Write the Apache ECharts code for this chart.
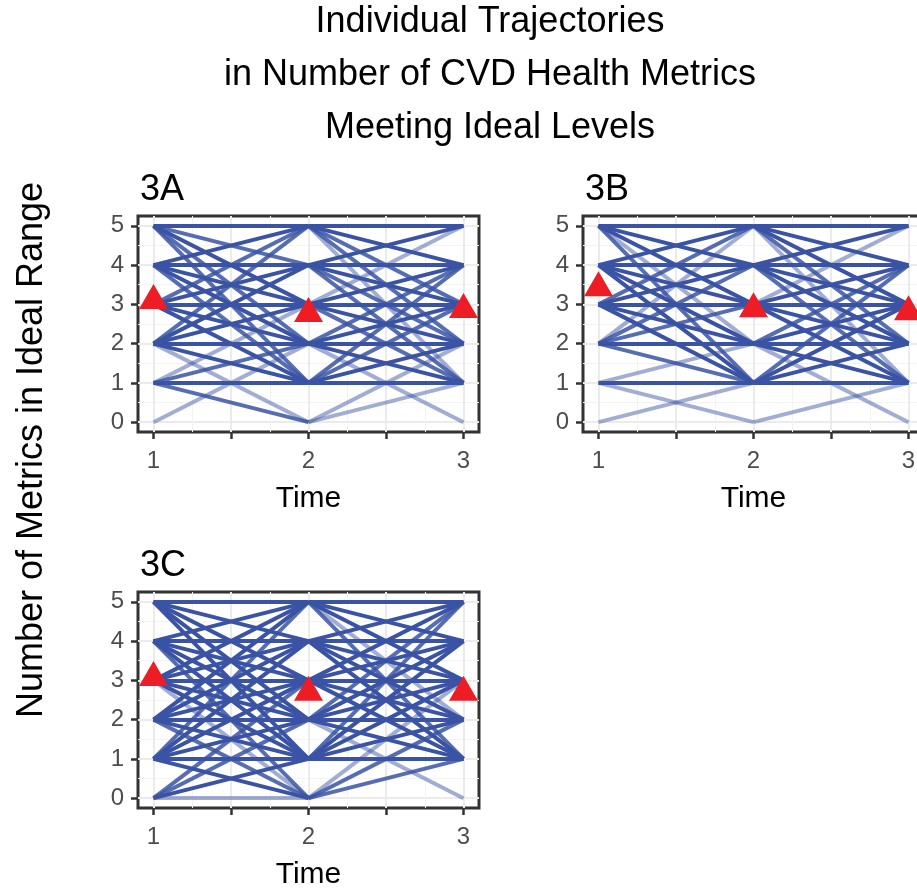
<!DOCTYPE html>
<html>
  <head>
    <meta charset="utf-8">
    <script src="https://cdn.jsdelivr.net/npm/echarts@6.0.0/dist/echarts.min.js"></script>
    <style>
      html, body { margin: 0; padding: 0; background: #fff; }
      #chart { width: 917px; height: 888px; }
    </style>
  </head>
  <body>
    <div id="chart"></div>
    <script>
      // each segment: [metrics at start, metrics at end, how many trajectories overlap]
      const segA12 = [
        [5,5,3],[5,4,2],[5,3,3],[5,2,2],[5,1,2],
        [4,5,3],[4,4,3],[4,3,3],[4,2,3],[4,1,2],
        [3,5,2],[3,4,3],[3,3,3],[3,2,3],[3,1,3],
        [2,5,2],[2,4,3],[2,3,3],[2,2,3],[2,1,3],[2,0,1],
        [1,3,1],[1,2,2],[1,1,3],[1,0,2],
        [0,2,1]
      ];
      const segA23 = [
        [5,5,3],[5,4,3],[5,3,2],[5,2,2],[5,1,1],
        [4,5,3],[4,4,3],[4,3,3],[4,2,2],[4,1,2],
        [3,5,1],[3,4,3],[3,3,3],[3,2,3],[3,1,2],
        [2,4,2],[2,3,3],[2,2,3],[2,1,3],[2,0,1],
        [1,4,2],[1,3,2],[1,2,3],[1,1,3],
        [0,2,1],[0,1,1]
      ];
      const segB12 = [
        [5,5,3],[5,4,3],[5,3,3],[5,2,1],[5,1,2],
        [4,5,3],[4,4,3],[4,3,3],[4,2,3],[4,1,3],
        [3,5,2],[3,4,3],[3,3,3],[3,2,3],[3,1,3],
        [2,5,1],[2,4,2],[2,3,2],[2,2,3],[2,1,2],
        [1,2,1],[1,1,3],[1,0,1],
        [0,1,1]
      ];
      const segB23 = [
        [5,5,3],[5,4,3],[5,3,3],[5,2,2],[5,1,1],
        [4,5,3],[4,4,3],[4,3,3],[4,2,3],[4,1,2],
        [3,5,1],[3,4,3],[3,3,3],[3,2,3],[3,1,3],
        [2,4,2],[2,3,3],[2,2,3],[2,1,3],[2,0,1],
        [1,4,2],[1,3,3],[1,2,3],[1,1,3],
        [0,1,1]
      ];
      const segC12 = [
        [5,5,3],[5,4,3],[5,3,3],[5,2,3],[5,1,3],
        [4,5,3],[4,4,3],[4,3,3],[4,2,3],[4,1,3],[4,0,2],
        [3,5,3],[3,4,3],[3,3,3],[3,2,3],[3,1,3],[3,0,1],
        [2,5,3],[2,4,3],[2,3,3],[2,2,3],[2,1,3],[2,0,2],
        [1,5,2],[1,4,3],[1,3,3],[1,2,3],[1,1,3],[1,0,3],
        [0,3,2],[0,2,2],[0,1,3],[0,0,1]
      ];
      const segC23 = [
        [5,5,3],[5,4,3],[5,3,3],[5,2,1],[5,1,2],
        [4,5,3],[4,4,3],[4,3,3],[4,2,3],[4,1,3],
        [3,5,3],[3,4,3],[3,3,3],[3,2,3],[3,1,3],
        [2,5,2],[2,4,3],[2,3,3],[2,2,3],[2,1,3],[2,0,1],
        [1,5,2],[1,4,3],[1,3,3],[1,2,3],[1,1,3],
        [0,3,1],[0,2,2],[0,1,2]
      ];
      // mean number of metrics at each time point (red triangles)
      const meanA = [3.10, 2.77, 2.87];
      const meanB = [3.42, 2.89, 2.81];
      const meanC = [3.07, 2.70, 2.70];

      const times = [1, 2, 3];
      const panelNames = ['3A', '3B', '3C'];
      const xTicks = [1, 1.5, 2, 2.5, 3];
      const xLabels = [1, 2, 3];
      const xMinor = [1.25, 1.75, 2.25, 2.75];
      const yTicks = [0, 1, 2, 3, 4, 5];
      const yMinor = [0.5, 1.5, 2.5, 3.5, 4.5];

      const FONT = '"Liberation Sans", Arial, Helvetica, sans-serif';
      const lineColor = '#3A53A4';
      const alphaByCount = [0, 0.48, 0.85, 1];

      const panels = [
        { name: panelNames[0], s12: segA12, s23: segA23, mean: meanA, left: 138, top: 216 },
        { name: panelNames[1], s12: segB12, s23: segB23, mean: meanB, left: 583, top: 216 },
        { name: panelNames[2], s12: segC12, s23: segC23, mean: meanC, left: 138, top: 592 }
      ];

      const grid = [], xAxis = [], yAxis = [], series = [], graphic = [];

      panels.forEach((p, i) => {
        grid.push({
          left: p.left, top: p.top, width: 341, height: 216,
          show: true, borderColor: '#333', borderWidth: 3, backgroundColor: '#fff',
          containLabel: false, outerBoundsMode: 'none'
        });
        // main x axis
        xAxis.push({
          type: 'value', gridIndex: i, min: 0.9, max: 3.1,
          name: 'Time', nameLocation: 'middle', nameGap: 52,
          nameTextStyle: { fontSize: 30, color: '#000', fontFamily: FONT },
          axisLine: { show: false, onZero: false },
          axisTick: { show: true, length: 7, customValues: xTicks, lineStyle: { color: '#333', width: 2.5 } },
          axisLabel: { customValues: xLabels, fontSize: 24, color: '#4D4D4D', fontFamily: FONT, margin: 17 },
          splitLine: { show: true, lineStyle: { color: '#EBEBEB', width: 2 } }
        });
        // minor x grid
        xAxis.push({
          type: 'value', gridIndex: i, min: 0.9, max: 3.1,
          axisLine: { show: false, onZero: false },
          axisTick: { show: false, customValues: xMinor },
          axisLabel: { show: false, customValues: xMinor },
          splitLine: { show: true, lineStyle: { color: '#F3F3F3', width: 1 } }
        });
        yAxis.push({
          type: 'value', gridIndex: i, min: -0.25, max: 5.25,
          axisLine: { show: false, onZero: false },
          axisTick: { show: true, length: 7, customValues: yTicks, lineStyle: { color: '#333', width: 2.5 } },
          axisLabel: { customValues: yTicks, fontSize: 24, color: '#4D4D4D', fontFamily: FONT, margin: 14 },
          splitLine: { show: true, lineStyle: { color: '#EBEBEB', width: 2 } }
        });
        yAxis.push({
          type: 'value', gridIndex: i, min: -0.25, max: 5.25,
          axisLine: { show: false, onZero: false },
          axisTick: { show: false, customValues: yMinor },
          axisLabel: { show: false, customValues: yMinor },
          splitLine: { show: true, lineStyle: { color: '#F3F3F3', width: 1 } }
        });

        const segs = [];
        p.s12.forEach(s => segs.push({ coords: [[times[0], s[0]], [times[1], s[1]]], lineStyle: { opacity: alphaByCount[s[2]] } }));
        p.s23.forEach(s => segs.push({ coords: [[times[1], s[0]], [times[2], s[1]]], lineStyle: { opacity: alphaByCount[s[2]] } }));
        series.push({
          type: 'lines', coordinateSystem: 'cartesian2d',
          xAxisIndex: 2 * i, yAxisIndex: 2 * i,
          data: segs, silent: true, z: 2,
          lineStyle: { color: lineColor, width: 4 }
        });
        series.push({
          type: 'scatter', xAxisIndex: 2 * i, yAxisIndex: 2 * i,
          data: times.map((t, k) => [t, p.mean[k]]),
          symbol: 'triangle', symbolSize: [29, 25], symbolOffset: [0, -4],
          itemStyle: { color: '#EE1C25', opacity: 1 }, silent: true, z: 5
        });

        graphic.push({
          type: 'text', left: p.left + 2, top: p.top - 44,
          style: { text: p.name, font: '36px ' + FONT, fill: '#000' }
        });
      });

      graphic.push({
        type: 'text', x: 490, y: 75,
        style: {
          text: 'Individual Trajectories\nin Number of CVD Health Metrics\nMeeting Ideal Levels',
          font: '36px ' + FONT, fill: '#000', lineHeight: 53,
          textAlign: 'center', textVerticalAlign: 'middle'
        }
      });
      graphic.push({
        type: 'text', x: 32, y: 450, rotation: Math.PI / 2,
        style: {
          text: 'Number of Metrics in Ideal Range',
          font: '36px ' + FONT, fill: '#000',
          textAlign: 'center', textVerticalAlign: 'middle'
        }
      });

      const chart = echarts.init(document.getElementById('chart'), null, { renderer: 'canvas' });
      chart.setOption({
        animation: false,
        backgroundColor: '#fff',
        grid: grid,
        xAxis: xAxis,
        yAxis: yAxis,
        series: series,
        graphic: graphic
      });
    </script>
  </body>
</html>
